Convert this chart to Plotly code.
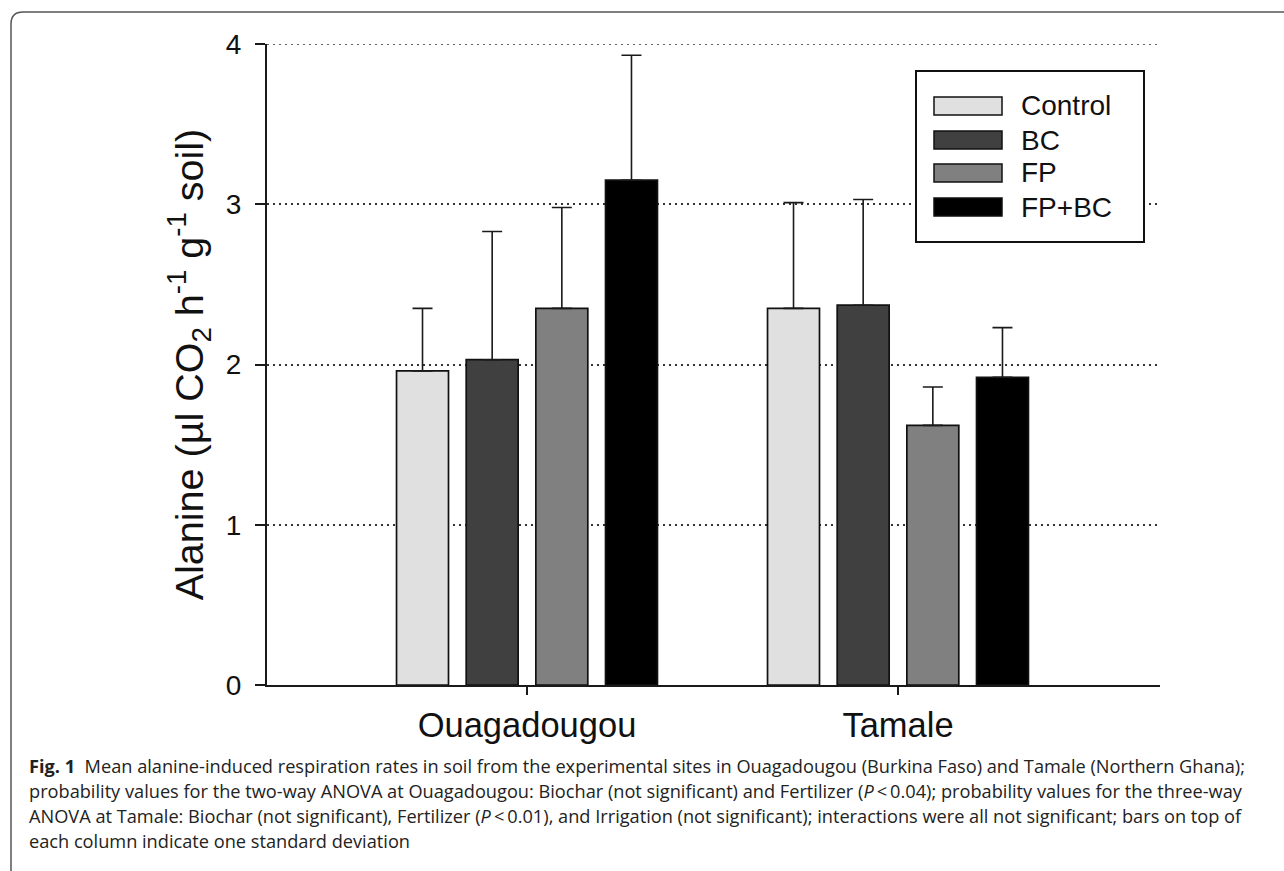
import plotly.graph_objects as go

# Sites and treatments
sites = ["Ouagadougou", "Tamale"]
site_pos = [0, 1]
treatments = ["Control", "BC", "FP", "FP+BC"]
colors = ["#e0e0e0", "#404040", "#808080", "#000000"]

# Mean alanine-induced respiration per treatment (Ouagadougou, Tamale)
control_mean = [1.96, 2.35]
bc_mean = [2.03, 2.37]
fp_mean = [2.35, 1.62]
fpbc_mean = [3.15, 1.92]

# One standard deviation per column
control_sd = [0.39, 0.66]
bc_sd = [0.80, 0.66]
fp_sd = [0.63, 0.24]
fpbc_sd = [0.78, 0.31]

means = [control_mean, bc_mean, fp_mean, fpbc_mean]
sds = [control_sd, bc_sd, fp_sd, fpbc_sd]

y_ticks = [0, 1, 2, 3, 4]

# Page geometry (pixels)
W, H = 1284, 871
ML, MR, MT, MB = 267, 124, 44, 186
PW = W - ML - MR
PH = H - MT - MB


def px(x):
    return (x - ML) / PW


def py(y):
    return (H - MB - y) / PH


AX = "#1a1a1a"
FONT = "Arial, Liberation Sans, sans-serif"
DOTS = "2px,4px"

fig = go.Figure()
for name, col, m, s in zip(treatments, colors, means, sds):
    fig.add_trace(go.Bar(
        x=site_pos, y=m, name=name,
        marker=dict(color=col, line=dict(color="#111111", width=1.7)),
        error_y=dict(type="data", array=s, arrayminus=[0] * len(s), symmetric=False,
                     color="#1a1a1a", thickness=1.6, width=10),
        showlegend=False,
    ))

fig.update_layout(
    width=W, height=H,
    margin=dict(l=ML, r=MR, t=MT, b=MB),
    paper_bgcolor="white", plot_bgcolor="white",
    barmode="group", bargap=0.249, bargroupgap=0.254,
    font=dict(family=FONT, color="#111111"),
    xaxis=dict(
        range=[-0.7008, 1.7062], tickvals=site_pos, ticktext=sites,
        showline=True, linecolor=AX, linewidth=2,
        ticks="outside", ticklen=8, tickwidth=2, tickcolor=AX,
        tickfont=dict(size=34.5, family=FONT, color="#111111"),
        ticklabelstandoff=1,
        showgrid=False, zeroline=False,
    ),
    yaxis=dict(
        range=[y_ticks[0], y_ticks[-1]], tickvals=y_ticks,
        showline=True, linecolor=AX, linewidth=2,
        ticks="outside", ticklen=10, tickwidth=2, tickcolor=AX,
        tickfont=dict(size=28, family=FONT, color="#111111"),
        ticklabelstandoff=8,
        showgrid=True, gridcolor="#333333", gridwidth=1.5, griddash=DOTS,
        zeroline=False,
        title=dict(text="Alanine (µl CO<sub>2</sub> h<sup>-1</sup> g<sup>-1</sup> soil)",
                   font=dict(size=39.5, family=FONT, color="#111111"), standoff=10),
    ),
)

shapes = []
annotations = []

# Dotted line at the top tick (the edge gridline is not drawn by the axis)
shapes.append(dict(type="line", xref="paper", yref="y", x0=0, x1=1,
                   y0=y_ticks[-1], y1=y_ticks[-1],
                   line=dict(color="#333333", width=1.5, dash=DOTS), layer="below"))

# Legend box with swatches
shapes.append(dict(type="rect", xref="paper", yref="paper",
                   x0=px(916), x1=px(1144), y0=py(242), y1=py(71),
                   fillcolor="white", line=dict(color="#111111", width=2), layer="above"))
row_y = [106, 140, 173, 207]
for name, col, cy in zip(treatments, colors, row_y):
    shapes.append(dict(type="rect", xref="paper", yref="paper",
                       x0=px(934), x1=px(1002), y0=py(cy + 9), y1=py(cy - 9),
                       fillcolor=col, line=dict(color="#111111", width=1.5), layer="above"))
    annotations.append(dict(xref="paper", yref="paper", x=px(1019), y=py(cy),
                            xanchor="left", yanchor="middle", text=name, showarrow=False,
                            font=dict(size=28, family=FONT, color="#111111")))

# Rounded frame around the figure and caption
fx0, fy0, r = 11, 12, 12
path = (f"M {px(fx0)},{py(H + 20)} L {px(fx0)},{py(fy0 + r)} "
        f"Q {px(fx0)},{py(fy0)} {px(fx0 + r)},{py(fy0)} L {px(W + 20)},{py(fy0)}")
shapes.append(dict(type="path", xref="paper", yref="paper", path=path,
                   line=dict(color="#555555", width=1.5)))

# Caption
CAP_FONT = "Open Sans, Noto Sans, sans-serif"
caption = [
    "<b>Fig. 1</b>  Mean alanine-induced respiration rates in soil from the experimental sites in "
    "Ouagadougou (Burkina Faso) and Tamale (Northern Ghana);",
    "probability values for the two-way ANOVA at Ouagadougou: Biochar (not significant) and "
    "Fertilizer (<i>P</i>\u2009&lt;\u20090.04); probability values for the three-way",
    "ANOVA at Tamale: Biochar (not significant), Fertilizer (<i>P</i>\u2009&lt;\u20090.01), and "
    "Irrigation (not significant); interactions were all not significant; bars on top of",
    "each column indicate one standard deviation",
]
cap_y = [766, 791, 816, 841]
for line, cy in zip(caption, cap_y):
    annotations.append(dict(xref="paper", yref="paper", x=px(27), y=py(cy),
                            xanchor="left", yanchor="middle", text=line, showarrow=False,
                            font=dict(size=18.2, family=CAP_FONT, color="#222222")))

fig.update_layout(shapes=shapes, annotations=annotations)
fig.write_html("out.html")
